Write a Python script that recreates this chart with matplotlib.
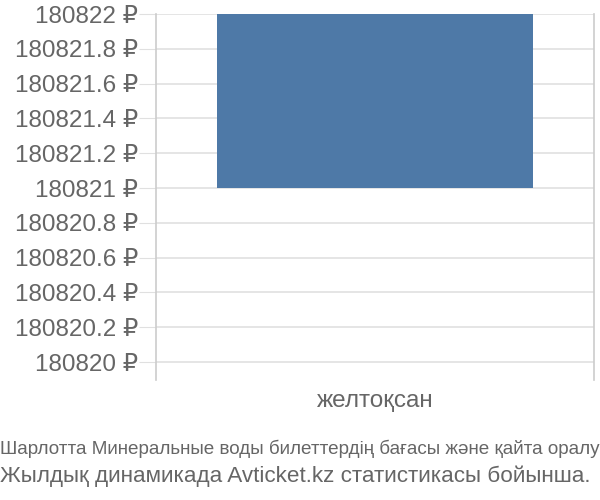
import matplotlib
matplotlib.use('Agg')
import matplotlib.pyplot as plt

plt.rcParams['font.family'] = ['Liberation Sans', 'DejaVu Sans']

# данные
categories = ['желтоқсан']
price_low = [180821]
price_high = [180822]
tick_values = [180820, 180820.2, 180820.4, 180820.6, 180820.8, 180821,
               180821.2, 180821.4, 180821.6, 180821.8, 180822]
title_line1 = 'Шарлотта Минеральные воды билеттердің бағасы және қайта оралу'
title_line2 = 'Жылдық динамикада Avticket.kz статистикасы бойынша.'


def fmt(v):
    s = '%.1f' % v
    if s.endswith('.0'):
        s = s[:-2]
    return s + ' ₽'


text_col = '#666666'
fig = plt.figure(figsize=(6, 5), dpi=100)
ax = fig.add_axes([0.26, 0.24, 0.73, 0.732])

x = range(len(categories))
heights = [h - l for h, l in zip(price_high, price_low)]
ax.bar(x, heights, bottom=price_low, width=0.72, color='#4e79a7', zorder=3)

ax.set_xlim(-0.5, len(categories) - 0.5)
ax.set_ylim(180819.897, 180822)
ax.set_yticks(tick_values)
ax.set_yticklabels([fmt(v) for v in tick_values])
ax.yaxis.grid(True, color='#e0e0e0', linewidth=1.2, zorder=0)
ax.tick_params(axis='y', length=12, color='#e0e0e0', labelsize=17.5, labelcolor=text_col, pad=1)
ax.set_xticks(list(x))
ax.set_xticklabels(categories)
ax.tick_params(axis='x', length=0, labelsize=17.5, labelcolor=text_col, pad=7)

for s in ['top', 'bottom']:
    ax.spines[s].set_visible(False)
for s in ['left', 'right']:
    ax.spines[s].set_color('#cccccc')
    ax.spines[s].set_linewidth(1.2)

fig.text(0.0, 0.103, title_line1, fontsize=13.6, color=text_col, ha='left', va='center')
fig.text(0.0, 0.048, title_line2, fontsize=16.2, color=text_col, ha='left', va='center')

fig.savefig('out.png', dpi=100)
